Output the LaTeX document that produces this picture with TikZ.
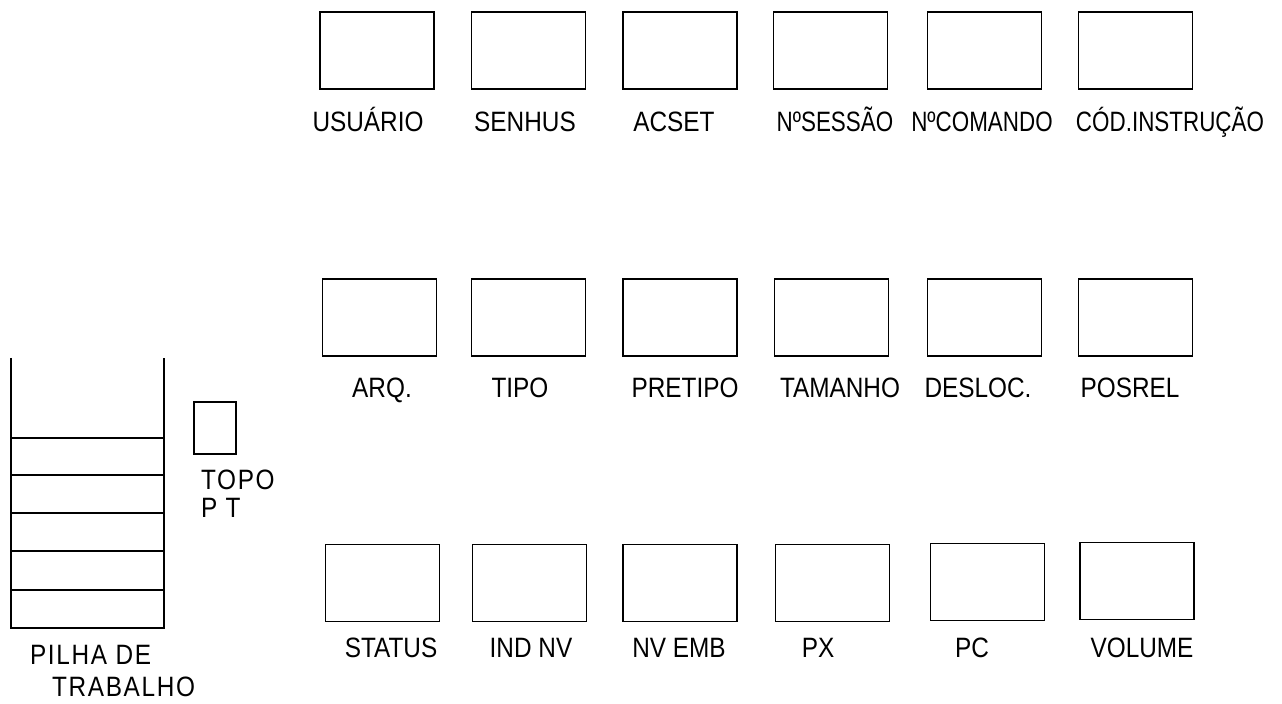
\documentclass[tikz,border=0pt]{standalone}
\usepackage{fontspec}
\setmainfont{Liberation Sans}[FakeStretch=0.87]
\begin{document}
\begin{tikzpicture}[x=0.5pt,y=-0.5pt,
  cell/.style={draw,line width=0.9pt,minimum width=57pt,minimum height=38.5pt,inner sep=0pt},
  lbl/.style={anchor=base,font=\fontsize{14}{16}\selectfont},
  wide/.style={anchor=base west,font=\fontsize{14}{16}\selectfont\addfontfeature{LetterSpace=6}}]
\useasboundingbox (0,0) rectangle (1282,704);
% registers, first row
\node[cell] (usuario) at (377,50.5) {};
\node[cell] (senhus) at (528.5,50.5) {};
\node[cell] (acset) at (680,50.5) {};
\node[cell] (nsessao) at (830.5,50.5) {};
\node[cell] (ncomando) at (984.5,50.5) {};
\node[cell] (codinstr) at (1135.5,50.5) {};
\node[lbl] (usuariol) at (368,132) {USUÁRIO};
\node[lbl] (senhusl) at (525,132) {SENHUS};
\node[lbl] (acsetl) at (674,132) {ACSET};
\node[lbl] (nsessaol) at (835,132) {\scalebox{0.92}[1]{NºSESSÃO}};
\node[lbl] (ncomandol) at (982,132) {\scalebox{0.92}[1]{NºCOMANDO}};
\node[lbl] (codinstrl) at (1170,132) {\scalebox{0.92}[1]{CÓD.INSTRUÇÃO}};
% second row
\node[cell] (arq) at (379.5,317.5) {};
\node[cell] (tipo) at (528.5,317.5) {};
\node[cell] (pretipo) at (680,317.5) {};
\node[cell] (tamanho) at (831.5,317.5) {};
\node[cell] (desloc) at (984.5,317.5) {};
\node[cell] (posrel) at (1135.5,317.5) {};
\node[lbl] (arql) at (382,398) {ARQ.};
\node[lbl] (tipol) at (520,398) {TIPO};
\node[lbl] (pretipol) at (685,398) {PRETIPO};
\node[lbl] (tamanhol) at (840,398) {TAMANHO};
\node[lbl] (deslocl) at (978,398) {DESLOC.};
\node[lbl] (posrell) at (1130,398) {POSREL};
% third row
\node[cell] (status) at (382.5,583) {};
\node[cell] (indnv) at (529.5,583) {};
\node[cell] (nvemb) at (680,583) {};
\node[cell] (px) at (832.5,583) {};
\node[cell] (pc) at (987.5,582) {};
\node[cell] (volume) at (1137,581) {};
\node[lbl] (statusl) at (391,658) {STATUS};
\node[lbl] (indnvl) at (531,658) {IND NV};
\node[lbl] (nvembl) at (679,658) {NV EMB};
\node[lbl] (pxl) at (818,658) {PX};
\node[lbl] (pcl) at (972,658) {PC};
\node[lbl] (volumel) at (1142,658) {VOLUME};
% pilha de trabalho
\draw[line width=0.9pt] (11,358) -- (11,628) -- (164,628) -- (164,358);
\foreach \y in {438,475,513,551,590}
  \draw[line width=0.9pt] (11,\y) -- (164,\y);
\node[wide] (pilha) at (23,665) {PILHA DE};
\node[wide] (trabalho) at (45,697) {TRABALHO};
% topo
\node[cell,minimum width=21pt,minimum height=26pt] (topo) at (215,428) {};
\node[wide] (topol) at (194,490) {TOPO};
\node[wide] (ptl) at (194,518) {P T};
\end{tikzpicture}
\end{document}
